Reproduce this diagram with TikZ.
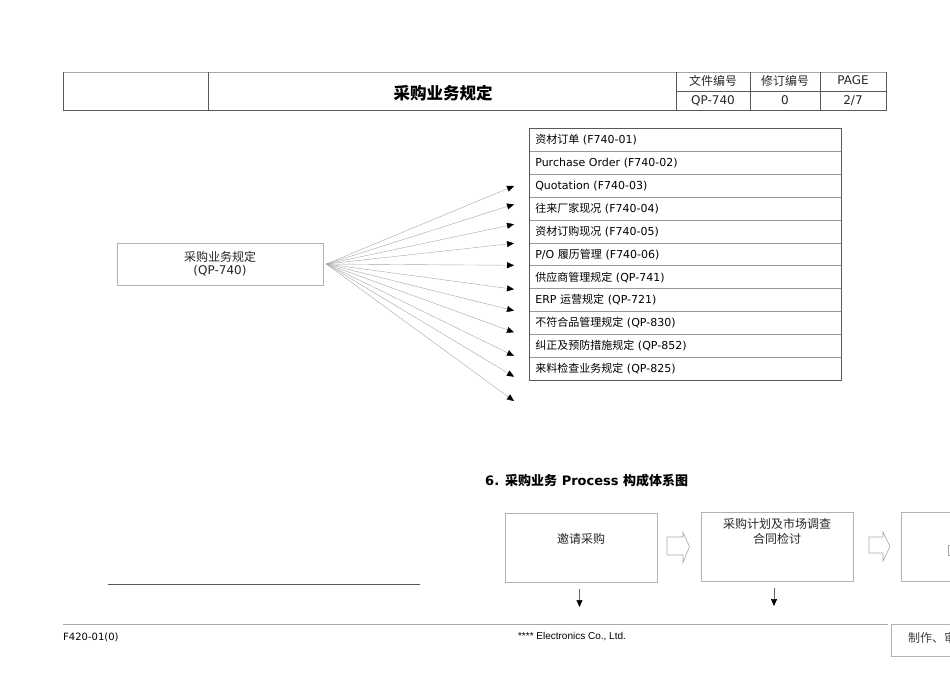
\documentclass[tikz,border=0pt]{standalone}
\usepackage{fontspec}
\setmainfont{DejaVu Sans}
\newfontfamily\cjk{Noto Sans CJK SC}
\newfontfamily\arialf{Liberation Sans}
\usetikzlibrary{arrows.meta}
\newcommand\zhtxt[1]{{\cjk #1}}
\begin{document}
\begin{tikzpicture}[x=1pt,y=-1pt,
  darkline/.style={draw=black!65, line width=0.8pt},
  lightline/.style={draw=black!35, line width=0.8pt},
  hcell/.style={inner sep=0pt, text=black!85, font={\fontsize{12}{14}\selectfont}},
  rowbox/.style={draw=black!40, line width=0.6pt, minimum height=22.9pt, text width=300pt,
     inner xsep=6pt, inner ysep=0pt, align=left, anchor=north west,
     font={\fontsize{11}{13}\selectfont}},
  fan/.style={draw=black!35, line width=0.4pt, -{Triangle[length=7pt,width=6pt,color=black]}},
  darr/.style={draw=black!60, line width=0.5pt, -{Triangle[length=7pt,width=6pt,color=black]}},
  pbox/.style={draw=black!30, line width=0.7pt, minimum width=152pt, minimum height=69pt, inner sep=0pt},
  ptext/.style={inner sep=0pt, align=center, text=black!85, font={\fontsize{12}{15}\selectfont}},
  barrow/.style={draw=black!35, line width=0.6pt},
  foot/.style={inner sep=0pt, font={\fontsize{10}{12}\selectfont}}]
\useasboundingbox (0,0) rectangle (950,672);
\clip (0,0) rectangle (950,672);

% ---------- header table ----------
\draw[lightline] (63,72) -- (886,72);
\draw[darkline] (63,72) -- (63,110) -- (886,110) -- (886,72);
\draw[darkline] (208,72) -- (208,110);
\draw[darkline] (676,72) -- (676,110);
\draw[darkline] (750,72) -- (750,110);
\draw[darkline] (820,72) -- (820,110);
\draw[darkline] (676,91) -- (886,91);
\node[inner sep=0pt, font={\fontsize{16.5}{18}\selectfont\bfseries}] (title) at (443,93) {\zhtxt{采购业务规定}};
\node[hcell] (h1) at (713,81) {\zhtxt{文件编号}};
\node[hcell] (h2) at (785,81) {\zhtxt{修订编号}};
\node[hcell] (h3) at (853,80.5) {PAGE};
\node[hcell] (v1) at (713,100.5) {QP-740};
\node[hcell] (v2) at (785,100.5) {0};
\node[hcell] (v3) at (853,100.5) {2/7};

% ---------- left box ----------
\node[draw=black!30, line width=0.7pt, minimum width=206pt, minimum height=42pt, inner sep=0pt,
      align=center, text=black!85, font={\fontsize{12}{13}\selectfont}] (lbox) at (220,264)
      {\zhtxt{采购业务规定}\\(QP-740)};

% ---------- list ----------
\node[rowbox] (r1)  at (529,128)   {\zhtxt{资材订单} (F740-01)};
\node[rowbox] (r2)  at (529,150.9) {Purchase Order (F740-02)};
\node[rowbox] (r3)  at (529,173.8) {Quotation (F740-03)};
\node[rowbox] (r4)  at (529,196.7) {\zhtxt{往来厂家现况} (F740-04)};
\node[rowbox] (r5)  at (529,219.6) {\zhtxt{资材订购现况} (F740-05)};
\node[rowbox] (r6)  at (529,242.5) {P/O \zhtxt{履历管理} (F740-06)};
\node[rowbox] (r7)  at (529,265.4) {\zhtxt{供应商管理规定} (QP-741)};
\node[rowbox] (r8)  at (529,288.3) {ERP \zhtxt{运营规定} (QP-721)};
\node[rowbox] (r9)  at (529,311.2) {\zhtxt{不符合品管理规定} (QP-830)};
\node[rowbox] (r10) at (529,334.1) {\zhtxt{纠正及预防措施规定} (QP-852)};
\node[rowbox] (r11) at (529,357)   {\zhtxt{来料检查业务规定} (QP-825)};
\draw[darkline] (r1.north west) rectangle (r11.south east);

% ---------- fan of arrows ----------
\coordinate (hub) at ([xshift=3pt]lbox.east);
\foreach \yy [count=\i] in {186,204.3,224.3,243.3,265.3,289.3,310.7,332.3,356,376.7,401} {
  \coordinate (t\i) at (514,\yy);
  \draw[fan] (hub) -- (t\i);
}

% ---------- section heading ----------
\node[anchor=west, inner sep=0pt, font={\fontsize{13}{15}\selectfont\bfseries}] (sec) at (485,481)
  {6. \zhtxt{采购业务} Process \zhtxt{构成体系图}};

% ---------- process boxes ----------
\node[pbox] (p1) at (581,547.5) {};
\node[ptext] (p1t) at (581,539) {\zhtxt{邀请采购}};
\node[pbox] (p2) at (777,547) {};
\node[ptext] (p2t) at (777,531.5) {\zhtxt{采购计划及市场调查}\\\zhtxt{合同检讨}};
\node[pbox, anchor=west] (p3) at (901,547) {};

\draw[barrow] (667,537) -- (683,537) -- (683,532.5) -- (689.5,546.5) -- (683,562.5) -- (683,555) -- (667,555) -- cycle;
\draw[barrow] (869,537) -- (883,537) -- (883,532) -- (890,546.5) -- (883,561) -- (883,553) -- (869,553) -- cycle;
\draw[barrow] (951,545) -- (948,545) -- (948,555) -- (951,555);

\coordinate (d1s) at (579.5,589);
\coordinate (d1e) at (579.5,607);
\coordinate (d2s) at (774,588);
\coordinate (d2e) at (774,606);
\draw[darr] (d1s) -- (d1e);
\draw[darr] (d2s) -- (d2e);

% ---------- signature line ----------
\draw[draw=black!65, line width=0.7pt] (108,584) -- (420,584);

% ---------- footer ----------
\draw[lightline] (63,624) -- (888,624);
\draw[draw=black!30, line width=0.7pt] (960,624) -- (891,624) -- (891,656) -- (960,656);
\node[foot, anchor=west] (f1) at (63,637) {F420-01(0)};
\node[foot, font={\fontsize{10}{12}\selectfont\arialf}] (f2) at (572,637) {**** Electronics Co., Ltd.};
\node[anchor=west, inner sep=0pt, text=black!75, font={\fontsize{12}{14}\selectfont}] (f3) at (908,637.5) {\zhtxt{制作、审核}};
\end{tikzpicture}
\end{document}
